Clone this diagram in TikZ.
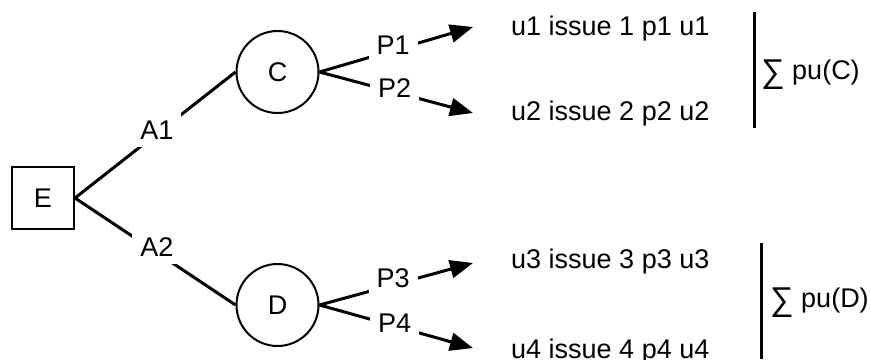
\documentclass[tikz,border=0pt]{standalone}
\usepackage{fontspec}
\setmainfont{Liberation Sans}
\usetikzlibrary{arrows.meta}
\newcommand{\bigsum}{\raisebox{-3pt}{\fontsize{33}{33}\selectfont ∑}}
\begin{document}
\begin{tikzpicture}[x=1pt,y=-1pt,
  every node/.style={font=\fontsize{27}{32}\selectfont},
  decbox/.style={draw,line width=2pt,minimum size=62pt,inner sep=0pt},
  chance/.style={draw,circle,line width=2pt,minimum size=82pt,inner sep=0pt},
  conn/.style={line width=3pt},
  arr/.style={conn,-{Triangle[length=23pt,width=18pt]}},
  lbl/.style={fill=white,inner sep=8pt},
  utext/.style={anchor=base west,inner sep=0pt},
  bar/.style={line width=3pt}]
\useasboundingbox (0,0) rectangle (870,359);
\node[decbox] (E) at (43,198) {E};
\node[chance] (C) at (277.5,72) {C};
\node[chance] (D) at (277.5,305) {D};
\coordinate (t1) at (473,27);
\coordinate (t2) at (473,113);
\coordinate (t3) at (473,263);
\coordinate (t4) at (473,348);
\draw[conn] (E.east) -- node[lbl,pos=0.51,yshift=4pt] {A1} (C.west);
\draw[conn] (E.east) -- node[lbl,pos=0.51,yshift=6pt] {A2} (D.west);
\draw[arr] (C.east) -- node[lbl,pos=0.48,yshift=5pt] {P1} (t1);
\draw[arr] (C.east) -- node[lbl,pos=0.49,yshift=4pt] {P2} (t2);
\draw[arr] (D.east) -- node[lbl,pos=0.48,yshift=7pt] {P3} (t3);
\draw[arr] (D.east) -- node[lbl,pos=0.49,yshift=3pt] {P4} (t4);
\node[utext] (u1) at (511,35) {u1 issue 1 p1 u1};
\node[utext] (u2) at (511,120) {u2 issue 2 p2 u2};
\node[utext] (u3) at (511,268) {u3 issue 3 p3 u3};
\node[utext] (u4) at (511,358) {u4 issue 4 p4 u4};
\coordinate (b1a) at (754,12);
\coordinate (b1b) at (754,128);
\coordinate (b2a) at (761,243);
\coordinate (b2b) at (761,359);
\draw[bar] (b1a) -- (b1b);
\draw[bar] (b2a) -- (b2b);
\node[utext] (s1) at (761,79) {\bigsum\ pu(C)};
\node[utext] (s2) at (770,307) {\bigsum\ pu(D)};
\end{tikzpicture}
\end{document}
